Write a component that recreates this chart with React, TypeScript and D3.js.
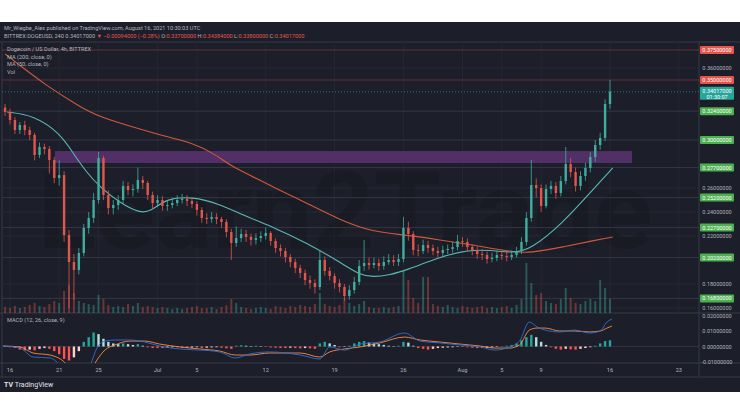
import React from 'react';
import * as d3 from 'd3';

const W = 740;
const H = 416;

// ---- data ----
// 12h candles, first one at 2021-06-15 12:00 UTC
const firstOpen = 0.327;
const closes = [
  0.3233, 0.3167, 0.3083, 0.3125, 0.3083, 0.3042, 0.2875, 0.2942, 0.2925, 0.2833,
  0.2683, 0.2708, 0.2208, 0.1983, 0.1917, 0.2058, 0.2267, 0.235, 0.25, 0.285,
  0.2542, 0.2433, 0.2458, 0.25, 0.2617, 0.2583, 0.2592, 0.2667, 0.2642, 0.2542,
  0.2475, 0.25, 0.245, 0.2458, 0.2475, 0.25, 0.2508, 0.2492, 0.2467, 0.2417,
  0.235, 0.2342, 0.2358, 0.2342, 0.2317, 0.2233, 0.2142, 0.2183, 0.2217, 0.2192,
  0.2167, 0.2183, 0.22, 0.2225, 0.2158, 0.21, 0.2075, 0.2025, 0.1983, 0.1933,
  0.1892, 0.1833, 0.1808, 0.1775, 0.2, 0.1908, 0.1867, 0.1808, 0.1775, 0.17,
  0.175, 0.1817, 0.195, 0.1975, 0.1958, 0.1975, 0.195, 0.1983, 0.2, 0.1983,
  0.2008, 0.2267, 0.2217, 0.2083, 0.2075, 0.2125, 0.21, 0.2075, 0.2058, 0.2083,
  0.2092, 0.2108, 0.2158, 0.215, 0.2108, 0.2083, 0.205, 0.2042, 0.2008, 0.2017,
  0.2042, 0.2033, 0.2025, 0.2042, 0.2075, 0.215, 0.235, 0.2625, 0.26, 0.245,
  0.2592, 0.2617, 0.2558, 0.2658, 0.28, 0.2733, 0.2617, 0.27, 0.2767, 0.2858,
  0.2958, 0.3017, 0.33, 0.3402,
];
const highs = [
  0.33, 0.326, 0.319, 0.315, 0.316, 0.311, 0.306, 0.298, 0.297, 0.295,
  0.286, 0.283, 0.274, 0.225, 0.205, 0.21, 0.23, 0.24, 0.256, 0.29,
  0.287, 0.258, 0.25, 0.254, 0.266, 0.265, 0.263, 0.277, 0.27, 0.266,
  0.257, 0.254, 0.253, 0.25, 0.252, 0.254, 0.255, 0.254, 0.252, 0.249,
  0.244, 0.239, 0.24, 0.239, 0.236, 0.234, 0.226, 0.228, 0.226, 0.225,
  0.222, 0.222, 0.224, 0.227, 0.224, 0.218, 0.213, 0.21, 0.205, 0.201,
  0.196, 0.192, 0.187, 0.184, 0.2083, 0.203, 0.194, 0.189, 0.184, 0.18,
  0.179, 0.186, 0.2, 0.2167, 0.202, 0.202, 0.201, 0.203, 0.205, 0.204,
  0.205, 0.236, 0.232, 0.224, 0.213, 0.217, 0.216, 0.213, 0.211, 0.212,
  0.213, 0.215, 0.221, 0.219, 0.218, 0.213, 0.211, 0.209, 0.207, 0.206,
  0.208, 0.208, 0.207, 0.208, 0.211, 0.219, 0.24, 0.2833, 0.268, 0.263,
  0.263, 0.266, 0.265, 0.27, 0.2942, 0.285, 0.277, 0.274, 0.281, 0.29,
  0.3, 0.306, 0.334, 0.35,
];
const lows = [
  0.32, 0.313, 0.305, 0.305, 0.304, 0.3, 0.283, 0.285, 0.288, 0.272,
  0.264, 0.262, 0.215, 0.16, 0.167, 0.188, 0.203, 0.222, 0.231, 0.247,
  0.25, 0.238, 0.238, 0.242, 0.247, 0.254, 0.253, 0.256, 0.259, 0.25,
  0.243, 0.244, 0.241, 0.241, 0.243, 0.245, 0.247, 0.245, 0.243, 0.237,
  0.231, 0.23, 0.231, 0.23, 0.227, 0.219, 0.2, 0.211, 0.215, 0.215,
  0.212, 0.213, 0.215, 0.217, 0.212, 0.206, 0.203, 0.198, 0.194, 0.189,
  0.185, 0.179, 0.176, 0.172, 0.175, 0.187, 0.183, 0.176, 0.173, 0.166,
  0.167, 0.172, 0.179, 0.191, 0.192, 0.193, 0.191, 0.192, 0.196, 0.195,
  0.195, 0.198, 0.216, 0.204, 0.203, 0.205, 0.206, 0.204, 0.202, 0.203,
  0.205, 0.206, 0.208, 0.211, 0.207, 0.204, 0.201, 0.2, 0.197, 0.198,
  0.199, 0.2, 0.199, 0.2, 0.202, 0.205, 0.212, 0.232, 0.252, 0.24,
  0.243, 0.255, 0.251, 0.253, 0.263, 0.269, 0.257, 0.258, 0.266, 0.273,
  0.282, 0.292, 0.299, 0.326,
];
// volume, millions of DOGE
const volumes = [
  6, 5, 7, 5, 6, 8, 10, 7, 6, 9, 12, 10,
  22, 28, 20,
  12, 10, 9, 8,
  18, 14,
  8, 6, 7, 6, 9, 7,
  10,
  6, 7, 6, 5, 6, 5, 4, 5, 4, 5, 6, 7, 5, 5, 6, 4, 6, 8,
  14, 10,
  6, 5, 4, 5, 6, 5, 4, 7, 6, 5, 7, 6, 8, 7, 6, 9,
  20,
  9, 7, 6, 8, 14, 10, 7, 9,
  12,
  6, 5, 5, 6, 5, 6, 7,
  43, 33, 15, 10, 36, 36,
  9, 7, 6, 8, 6, 5, 7, 6, 5, 6, 7, 5, 6, 5, 6, 7, 5, 8,
  14, 50, 30, 18, 20, 12, 10, 9, 14, 25, 15, 10, 9, 12, 14, 12, 33, 25, 14,
];
// MACD histogram, in 1e-3
const macdHist = [
  0.3, -0.5, -1, -2, -2.5, -2, -2.5, -1.5, -1, -1.5,
  -3, -5, -8, -9, -7, -3, 3,
  6, 9, 8, 5, 3,
  2, 1.5, 2, 1.5, 1, 1.5, 0.5, -0.5, -1, -1,
  -1, -0.8, -0.5, -0.5, -0.8, -1, -0.7, -0.5, -1, -0.8, -0.6, -0.5, -0.8, -1.2, -1.5,
  0.5, 0.8, 0.5, 0.3, 0.5, 0.3, -0.3, -0.6, -0.8, -1, -1, -0.8, -1, -1.2, -1, -1.2,
  -1.5, 2, 3, 2, 1, -0.5, -0.3, 0.5, 2, 3, 3.5, 2.5, 2, 1.5, 1, 0.5, 0.3, 0.5,
  3, 2.5, 0.5, -1, -1.5, -2, -1.5, -1, -0.8, -0.6, -0.5, -0.3, -0.2, -0.5, -0.8, -1, -1, -0.8, -0.6, -0.3, 0.2, 0.5, 1, 2,
  4, 6, 7.5, 6, 3, 1, -0.5, -1.5, -2, -1.5, -1.8, -2, -1.5, -1, -0.5, 0.5, 2, 3.5, 4,
];

// [days since 16 Jun, value]
const ma200 = [
  [-0.5, 0.3717], [2.03, 0.3558], [3.35, 0.3475], [7.11, 0.3275], [9.15, 0.3192],
  [12.5, 0.3108], [15.96, 0.3025], [18.6, 0.2975], [20.63, 0.2892], [22.66, 0.2775],
  [24.39, 0.2708], [26.73, 0.2608], [30.18, 0.2475], [33.54, 0.2333], [36.89, 0.2233],
  [40.35, 0.2208], [43.7, 0.2167], [47.05, 0.2125], [51.12, 0.2067], [52.85, 0.2058],
  [56.2, 0.2108], [59.65, 0.2167], [61.28, 0.2192],
];
const ma50 = [
  [-0.3, 0.3233], [2.34, 0.3208], [5.08, 0.3058], [6.4, 0.2892], [7.83, 0.2725],
  [9.15, 0.2608], [11.18, 0.2475], [13.2, 0.2392], [14.23, 0.24], [15.96, 0.2517],
  [18.6, 0.2525], [21.04, 0.2475], [24.39, 0.235], [26.73, 0.2275], [30.18, 0.2142],
  [33.54, 0.1983], [35.57, 0.1875], [36.89, 0.1858], [38.62, 0.1875], [40.35, 0.1917],
  [43.7, 0.2025], [46.44, 0.2083], [48.78, 0.2083], [51.12, 0.2058], [52.85, 0.2083],
  [56.2, 0.2308], [58.94, 0.2558], [61.28, 0.2767],
];
// [days since 16 Jun, macd, signal]
const macdLines = [
  [-0.7, 0.0003, 0.0003], [1.02, -0.001, -0.0003], [2.34, -0.0068, -0.0042], [4.07, -0.0074, -0.0055],
  [5.28, -0.0139, -0.0087], [6.3, -0.025, -0.015], [7.3, -0.0216, -0.0184], [8.13, -0.0126, -0.0165],
  [8.84, -0.001, -0.0087], [9.65, 0.0035, -0.0023], [10.67, 0.0042, 0.001], [12.2, 0.0042, 0.0035],
  [13.7, 0.0029, 0.0035], [15.2, 0.0003, 0.0016], [17.3, -0.0016, -0.0003], [19.3, -0.0023, -0.0016],
  [21.3, -0.0035, -0.0029], [22.9, -0.0074, -0.0055], [24.4, -0.0048, -0.0055], [26.4, -0.0035, -0.0042],
  [29.5, -0.0055, -0.0042], [31.5, -0.0081, -0.0068], [32.5, -0.0003, -0.0035], [34.0, -0.0023, -0.0016],
  [35.6, 0.0016, -0.0003], [37.6, 0.0029, 0.0023], [40.1, 0.0087, 0.0061], [41.7, 0.0035, 0.0042],
  [43.7, 0.0023, 0.0029], [45.7, 0.001, 0.0016], [47.8, -0.0003, 0.0003], [49.3, -0.0023, -0.001],
  [50.8, -0.0003, -0.001], [51.8, 0.0035, 0.001], [52.8, 0.0158, 0.0106], [53.6, 0.0126, 0.0119],
  [54.4, 0.0106, 0.0119], [55.9, 0.0094, 0.01], [57.4, 0.0106, 0.01], [58.9, 0.0087, 0.0094],
  [60.0, 0.01, 0.01], [60.7, 0.0158, 0.0119], [61.2, 0.0177, 0.0132],
];

const tickDates = [
  [5, 16], [5, 21], [5, 25], [6, 1], [6, 5], [6, 12], [6, 19], [6, 26],
  [7, 1], [7, 5], [7, 9], [7, 16], [7, 23],
];
const tickLabels = ['16', '21', '25', 'Jul', '5', '12', '19', '26', 'Aug', '5', '9', '16', '23'];

const greenLevels = [0.324, 0.3, 0.277, 0.252, 0.227, 0.202, 0.168];
const redLevels = [0.375, 0.35];
const gridPrices = [0.36, 0.26, 0.24, 0.22, 0.18, 0.16];
const zoneTop = 0.2908;
const zoneBottom = 0.2808;
const lastPrice = 0.34017;
const macdTicks = [0.02, 0.01, 0, -0.01];

// ---- look ----
const BG = '#1c1e29';
const BORDER = '#363a47';
const TEXT = '#b2b5be';
const UP = '#3fae9f';
const DOWN = '#e2574c';
const FONT = 'Roboto, "Open Sans", sans-serif';

const DAY = 86400000;
const jun16 = Date.UTC(2021, 5, 16);
const firstCandle = Date.UTC(2021, 5, 15, 12);

const App: React.FC = () => {
  const x = d3.scaleTime()
    .domain([new Date(jun16), new Date(Date.UTC(2021, 7, 16))])
    .range([10, 610]);
  const dx = (d: number) => x(new Date(jun16 + d * DAY));
  const y = d3.scaleLinear().domain([0.16, 0.38]).range([308, 44]);
  const yVol = d3.scaleLinear().domain([0, 50]).range([313, 263]);
  const yMacd = d3.scaleLinear().domain([-0.01, 0.02]).range([362, 315.5]);

  const candles = closes.map((c, i) => ({
    t: new Date(firstCandle + i * DAY / 2),
    o: i === 0 ? firstOpen : closes[i - 1],
    h: highs[i],
    l: lows[i],
    c,
    v: volumes[i] ?? 5,
    hist: (macdHist[i] ?? 0) / 1000,
  }));

  const maLine = d3.line<number[]>().x(d => dx(d[0])).y(d => y(d[1])).curve(d3.curveBasis);
  const macdLine = d3.line<number[]>().x(d => dx(d[0])).y(d => yMacd(d[1])).curve(d3.curveMonotoneX);
  const signalLine = d3.line<number[]>().x(d => dx(d[0])).y(d => yMacd(d[2])).curve(d3.curveMonotoneX);

  const fmt = (v: number) => (v < 0 ? '-' : '') + Math.abs(v).toFixed(8);

  const histColor = (i: number) => {
    const h = candles[i].hist;
    const prev = i > 0 ? candles[i - 1].hist : 0;
    if (h >= 0) return h >= prev ? '#26a69a' : '#b2dfdb';
    return h <= prev ? '#ff5252' : '#ffcdd2';
  };

  const label = (p: number, fill: string, key: string) => (
    <g key={key}>
      <rect x={700} y={y(p) - 4} width={34} height={8} fill={fill} rx={1} />
      <text x={717} y={y(p) + 2} fontSize={5.5} fill="#fff" textAnchor="middle">{p.toFixed(8)}</text>
    </g>
  );

  return (
    <svg width={W} height={H} style={{ position: 'absolute', left: 0, top: 0 }} fontFamily={FONT}>
      <rect width={W} height={H} fill="#fff" />
      <rect x={0} y={22} width={W} height={370} fill={BG} />
      <defs>
        <clipPath id="pricePane"><rect x={2} y={42} width={697} height={271} /></clipPath>
        <clipPath id="macdPane"><rect x={2} y={313} width={697} height={50} /></clipPath>
      </defs>

      {/* header */}
      <text x={4} y={30} fontSize={5.6} fill={TEXT}>
        Mr_Wiegbe_Alex published on TradingView.com, August 16, 2021 10:30:03 UTC
      </text>
      <text x={4} y={38} fontSize={5.6} fill={TEXT}>
        BITTREX:DOGEUSD, 240 0.34017000
        <tspan fill={DOWN}> ▼ −0.00094000 (−0.28%)</tspan>
        <tspan> O:</tspan><tspan fill={DOWN}>0.33700000</tspan>
        <tspan> H:</tspan><tspan fill={DOWN}>0.34384000</tspan>
        <tspan> L:</tspan><tspan fill={DOWN}>0.33800000</tspan>
        <tspan> C:</tspan><tspan fill={DOWN}>0.34017000</tspan>
      </text>

      {/* frame */}
      <line x1={0} x2={W} y1={42} y2={42} stroke={BORDER} />
      <line x1={0} x2={W} y1={313} y2={313} stroke={BORDER} />
      <line x1={0} x2={W} y1={363} y2={363} stroke={BORDER} />
      <line x1={0} x2={W} y1={377} y2={377} stroke={BORDER} />
      <line x1={699} x2={699} y1={42} y2={377} stroke={BORDER} />
      <line x1={2} x2={2} y1={42} y2={377} stroke={BORDER} />

      <g clipPath="url(#pricePane)">
        {/* grid */}
        {tickDates.map((d, i) => (
          <line key={'vg' + i} x1={x(new Date(Date.UTC(2021, d[0], d[1])))} x2={x(new Date(Date.UTC(2021, d[0], d[1])))}
            y1={42} y2={313} stroke="#242733" />
        ))}
        {gridPrices.map(p => (
          <line key={'hg' + p} x1={2} x2={699} y1={y(p)} y2={y(p)} stroke="#262935" />
        ))}
        {/* watermark */}
        <text x={345} y={248} fontSize={108} fontWeight="bold" textAnchor="middle" fill="#11121a" opacity={0.3}>
          Learn2Trade
        </text>
        {/* levels */}
        {greenLevels.map(p => (
          <line key={'gl' + p} x1={2} x2={699} y1={y(p)} y2={y(p)} stroke="#3a3e4c" strokeWidth={0.8} />
        ))}
        {redLevels.map(p => (
          <line key={'rl' + p} x1={2} x2={699} y1={y(p)} y2={y(p)} stroke="#6b3440" strokeWidth={0.9} />
        ))}
        <rect x={55} y={y(zoneTop)} width={632 - 55} height={y(zoneBottom) - y(zoneTop)} fill="#54306a" opacity={0.95} />
        <line x1={2} x2={699} y1={y(lastPrice)} y2={y(lastPrice)} stroke="#26a69a" strokeDasharray="1 2" strokeWidth={0.7} />

        {/* volume */}
        {candles.map((d, i) => (
          <rect key={'v' + i} x={x(d.t) - 1} width={2} y={yVol(d.v)} height={313 - yVol(d.v)}
            fill={d.c >= d.o ? UP : DOWN} opacity={0.4} />
        ))}

        {/* moving averages */}
        <path d={maLine(ma200) || ''} fill="none" stroke="#cf5a3c" strokeWidth={1.1} />
        <path d={maLine(ma50) || ''} fill="none" stroke="#58b9b4" strokeWidth={1.1} />

        {/* candles */}
        {candles.map((d, i) => {
          const col = d.c >= d.o ? UP : DOWN;
          const top = y(Math.max(d.o, d.c));
          const bot = y(Math.min(d.o, d.c));
          return (
            <g key={'c' + i}>
              <line x1={x(d.t)} x2={x(d.t)} y1={y(d.h)} y2={y(d.l)} stroke={col} strokeWidth={0.8} />
              <rect x={x(d.t) - 1.2} width={2.4} y={top} height={Math.max(1, bot - top)} fill={col} />
            </g>
          );
        })}
      </g>

      {/* legends */}
      <text x={7} y={51} fontSize={5.6} fill={TEXT}>Dogecoin / US Dollar, 4h, BITTREX</text>
      <text x={7} y={58.5} fontSize={5.6} fill={TEXT}>MA (200, close, 0)</text>
      <text x={7} y={66} fontSize={5.6} fill={TEXT}>MA (50, close, 0)</text>
      <text x={7} y={73.5} fontSize={5.6} fill={TEXT}>Vol</text>

      {/* macd pane */}
      <g clipPath="url(#macdPane)">
        <line x1={2} x2={699} y1={yMacd(0)} y2={yMacd(0)} stroke="#3a3e4b" strokeWidth={0.6} />
        {candles.map((d, i) => (
          <rect key={'h' + i} x={x(d.t) - 1.2} width={2.4}
            y={Math.min(yMacd(d.hist), yMacd(0))} height={Math.abs(yMacd(d.hist) - yMacd(0))}
            fill={histColor(i)} />
        ))}
        <path d={signalLine(macdLines) || ''} fill="none" stroke="#ff8a3d" strokeWidth={0.9} />
        <path d={macdLine(macdLines) || ''} fill="none" stroke="#2f6fd6" strokeWidth={0.9} />
      </g>
      <text x={7} y={322} fontSize={5.6} fill={TEXT}>MACD (12, 26, close, 9)</text>
      {macdTicks.map(v => (
        <text key={'mt' + v} x={717} y={yMacd(v) + 2} fontSize={5.5} fill={TEXT} textAnchor="middle">{fmt(v)}</text>
      ))}

      {/* price axis */}
      {gridPrices.map(p => (
        <text key={'gp' + p} x={717} y={y(p) + 2} fontSize={5.5} fill={TEXT} textAnchor="middle">{p.toFixed(8)}</text>
      ))}
      {greenLevels.map(p => label(p, '#4caf50', 'g' + p))}
      {redLevels.map(p => label(p, '#e5534b', 'r' + p))}
      <rect x={700} y={y(lastPrice) - 5} width={34} height={13} fill="#26a69a" rx={1} />
      <text x={717} y={y(lastPrice) + 1} fontSize={5.5} fill="#fff" textAnchor="middle">{lastPrice.toFixed(8)}</text>
      <text x={717} y={y(lastPrice) + 7} fontSize={5.5} fill="#fff" textAnchor="middle">01:30:07</text>

      {/* time axis */}
      {tickDates.map((d, i) => (
        <text key={'t' + i} x={x(new Date(Date.UTC(2021, d[0], d[1])))} y={372} fontSize={5.6}
          fill={TEXT} textAnchor="middle">{tickLabels[i]}</text>
      ))}

      {/* branding */}
      <text x={4} y={387} fontSize={7} fill="#e0e3eb" fontWeight="bold">
        TV <tspan fontWeight="normal">TradingView</tspan>
      </text>
    </svg>
  );
};

export default App;
